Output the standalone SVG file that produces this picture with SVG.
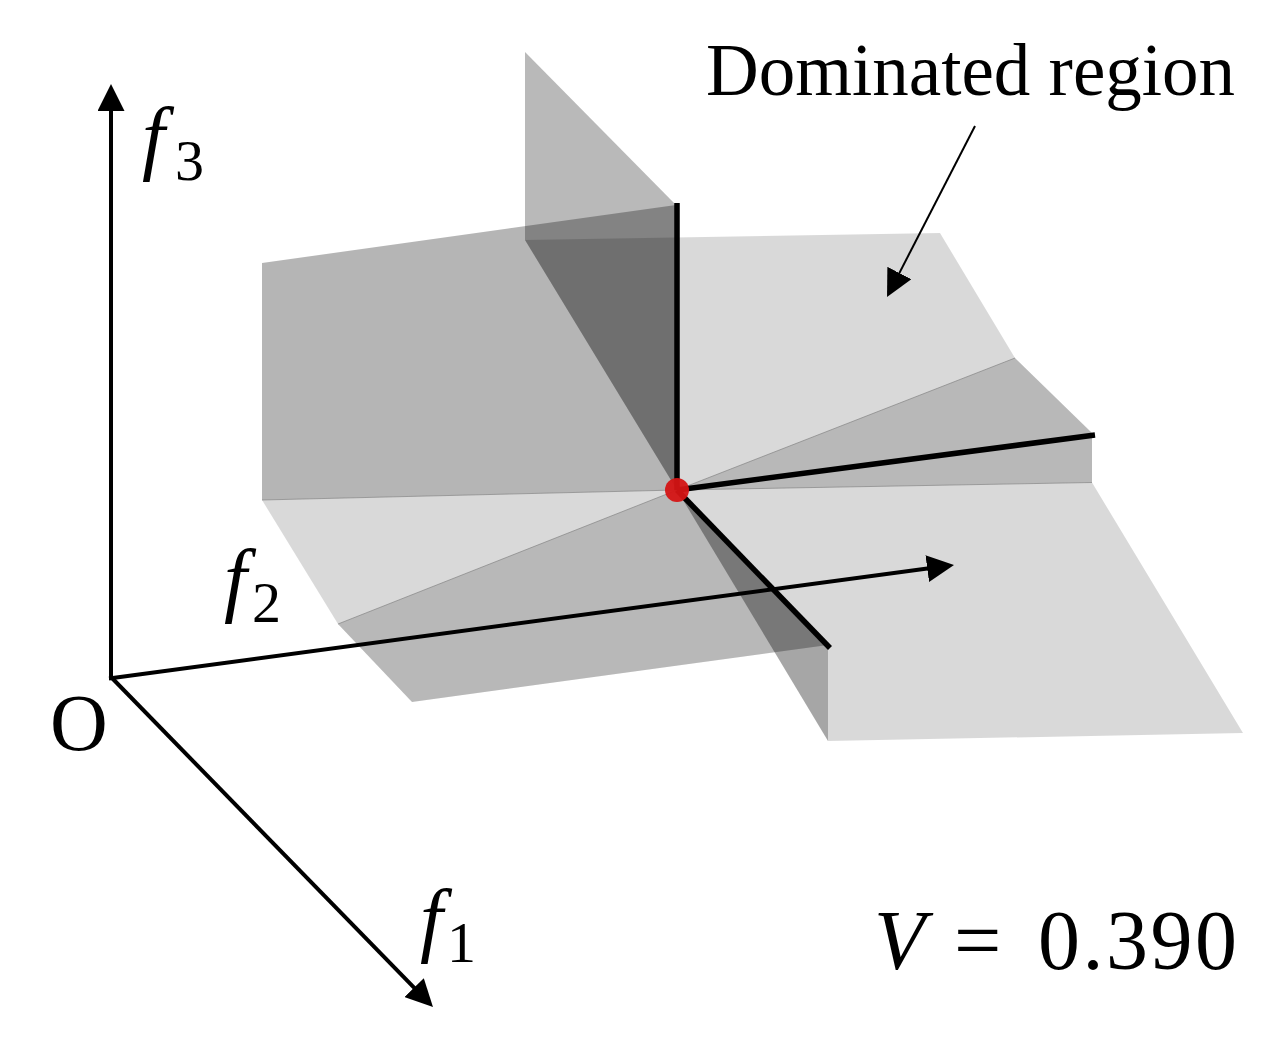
<svg xmlns="http://www.w3.org/2000/svg" width="1283" height="1037" viewBox="0 0 1283 1037">
  <style>
    .light { fill: #000; fill-opacity: 0.15; }
    .wallA { fill: #000; fill-opacity: 0.275; }
    .wallB { fill: #000; fill-opacity: 0.29; }
    .side { fill: #000; fill-opacity: 0.35; }
    .seam { fill: none; stroke: #7a7a7a; stroke-width: 1; stroke-opacity: 0.6; }
    .axis { fill: none; stroke: #000; stroke-width: 4; }
    .edge { fill: none; stroke: #000; stroke-width: 5.5; }
    .lbl { font-family: "Liberation Serif", "Times New Roman", serif; fill: #000; }
    .it { font-style: italic; }
  </style>
  <defs>
    <marker id="arrow" viewBox="0 0 27 27" markerWidth="27" markerHeight="27" refX="17" refY="13.5" orient="auto" markerUnits="userSpaceOnUse">
      <path d="M0,0 L27,13.5 L0,27 Z" fill="#000"/>
    </marker>
  </defs>
  <rect width="1283" height="1037" fill="#fff"/>

  <g id="dominated-region">
    <polygon id="wall-back" class="wallA" points="525,52 676,205 677,490 525,240"/>
    <polygon id="wall-left" class="wallB" points="262,263 676,205 677,490 262,500"/>
    <polygon id="top-plane" class="light" points="525,240 940,233 1015,358 1092,433 1092,482.5 677,490"/>
    <polygon id="top-plane-fold" class="light" points="677,490 1015,358 1092,433 1092,482.5"/>
    <polygon id="lower-left-plane" class="light" points="262,500 338,624 412,702 828,645 677,490"/>
    <polygon id="lower-left-fold" class="light" points="677,490 338,624 412,702 828,645"/>
    <polygon id="side-face" class="side" points="677,490 828,645 828,741"/>
    <polygon id="lower-right-plane" class="light" points="677,490 1092,482.5 1243,733 828,741 828,645"/>
    <path class="seam" d="M262,500 L677,490 M677,490 L338,624 M677,490 L1092,482.5 M677,490 L1015,358"/>
  </g>

  <g id="connectors">
    <line id="axis-f3" class="axis" x1="111" y1="680" x2="111" y2="94" marker-end="url(#arrow)"/>
    <line id="axis-f2" class="axis" x1="109" y1="678.4" x2="944.1" y2="566.3" marker-end="url(#arrow)"/>
    <line id="axis-f1" class="axis" x1="111" y1="677" x2="426" y2="999.8" marker-end="url(#arrow)"/>
    <line id="label-arrow" fill="none" stroke="#000" stroke-width="2" x1="975" y1="126" x2="891.6" y2="288.1" marker-end="url(#arrow)"/>
  </g>

  <g id="point-edges">
    <line class="edge" x1="677" y1="203" x2="677" y2="490"/>
    <line class="edge" x1="677" y1="490" x2="1095" y2="435"/>
    <line class="edge" x1="677" y1="490" x2="830" y2="648"/>
  </g>

  <g id="point">
    <circle cx="677" cy="490" r="12" fill="#d41414" fill-opacity="0.95"/>
  </g>

  <g id="labels">
    <text id="label-dominated" class="lbl" x="706" y="95" font-size="73">Dominated region</text>
    <g id="label-f3">
      <text class="lbl it" x="142" y="164" font-size="82">f</text>
      <text class="lbl" x="175" y="180" font-size="58">3</text>
    </g>
    <g id="label-f2">
      <text class="lbl it" x="224" y="606" font-size="82">f</text>
      <text class="lbl" x="252" y="622" font-size="58">2</text>
    </g>
    <g id="label-f1">
      <text class="lbl it" x="420" y="946" font-size="82">f</text>
      <text class="lbl" x="447" y="962" font-size="58">1</text>
    </g>
    <text id="label-origin" class="lbl" x="50" y="750" font-size="80">O</text>
    <g id="label-volume">
      <text class="lbl it" x="874" y="969" font-size="84">V</text>
      <text class="lbl" x="954" y="969" font-size="84">=</text>
      <text class="lbl" x="1038" y="969" font-size="84" letter-spacing="2.5">0.390</text>
    </g>
  </g>
</svg>
